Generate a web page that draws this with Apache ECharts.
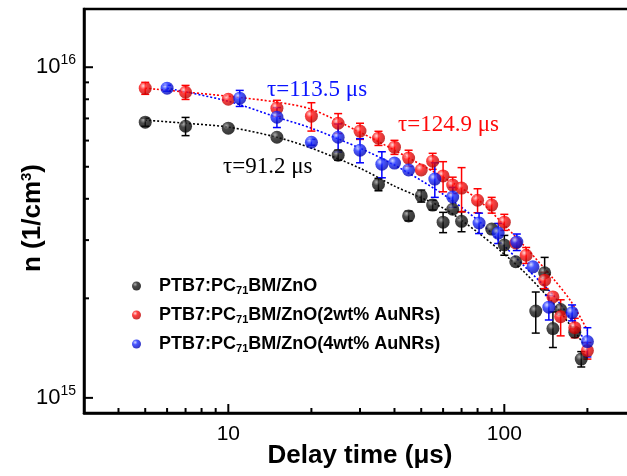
<!DOCTYPE html>
<html>
<head>
<meta charset="utf-8">
<script src="https://cdn.jsdelivr.net/npm/echarts@6/dist/echarts.min.js"></script>
<style>
  html, body { margin: 0; padding: 0; background: #fff; }
  #chart { width: 627px; height: 476px; }
</style>
</head>
<body>
<div id="chart"></div>
<script>
// all n values below are in units of 1e15 cm^-3
const UNIT = 1e15;

// PTB7:PC71BM/ZnO
const blackTimes = [5, 7, 10, 15, 25, 35, 45, 50, 55, 60, 65, 70, 90, 100, 110, 130, 140, 150, 160, 180, 190];
const blackValues = [6.82, 6.63, 6.54, 6.14, 5.42, 4.42, 3.55, 4.08, 3.83, 3.40, 3.72, 3.42, 3.24, 2.90, 2.58, 1.83, 2.39, 1.62, 1.85, 1.58, 1.31];
const blackErrors = [0.19, 0.42, 0, 0, 0.19, 0.19, 0.12, 0.17, 0.13, 0.24, 0, 0.24, 0, 0.20, 0, 0.26, 0.27, 0.20, 0, 0, 0.07];

// PTB7:PC71BM/ZnO(2wt% AuNRs)
const redTimes = [5, 7, 10, 15, 20, 25, 30, 35, 40, 45, 50, 55, 60, 65, 70, 80, 90, 100, 110, 120, 140, 150, 160, 180, 200];
const redValues = [8.64, 8.40, 8.00, 7.52, 7.11, 6.77, 6.41, 6.10, 5.73, 5.31, 4.89, 5.20, 4.69, 4.40, 4.31, 3.96, 3.83, 3.40, 2.94, 2.70, 2.27, 2.02, 1.76, 1.63, 1.39];
const redErrors = [0.36, 0.41, 0, 0.42, 0.70, 0.47, 0.36, 0.30, 0.28, 0.30, 0, 0.29, 0.49, 0.25, 0.66, 0.33, 0.21, 0.19, 0, 0.15, 0.13, 0, 0.22, 0.11, 0.08];

// PTB7:PC71BM/ZnO(4wt% AuNRs)
const blueTimes = [6, 11, 15, 20, 25, 30, 36, 40, 45, 56, 65, 81, 95, 111, 127, 145, 176, 200];
const blueValues = [8.64, 8.06, 7.06, 5.93, 6.14, 5.61, 5.09, 5.13, 4.89, 4.59, 4.05, 3.38, 3.15, 2.96, 2.49, 1.88, 1.81, 1.48];
const blueErrors = [0.18, 0.45, 0.49, 0.12, 0.60, 0.47, 0.46, 0, 0, 0.55, 0.28, 0.24, 0.22, 0.17, 0, 0.16, 0.10, 0.15];

// dotted fit curves
const blackFitTimes = [5, 7, 10, 15, 20, 30, 40, 60, 80, 100, 120, 150, 175, 200];
const blackFitValues = [6.92, 6.77, 6.59, 6.14, 5.69, 4.95, 4.37, 3.75, 3.17, 2.72, 2.37, 1.94, 1.64, 1.40];
const redFitTimes = [5, 10, 15, 20, 30, 40, 60, 80, 100, 120, 150, 175, 200];
const redFitValues = [8.64, 8.17, 7.84, 7.46, 6.36, 5.61, 4.65, 3.99, 3.33, 2.84, 2.30, 1.95, 1.60];
const blueFitTimes = [6, 10, 15, 20, 30, 40, 60, 80, 100, 120, 150, 175, 200];
const blueFitValues = [8.64, 7.89, 7.06, 6.54, 5.69, 5.06, 4.13, 3.45, 2.88, 2.47, 2.05, 1.72, 1.45];

// axes
const X_MIN = 3, X_MAX = 300;
const Y_MIN = 0.9, Y_MAX = 15;
const xMajorTicks = [10, 100];
const xMinorTicks = [4, 5, 6, 7, 8, 9, 20, 30, 40, 50, 60, 70, 80, 90, 200];
const yMajorTicks = [1, 10];
const yMinorTicks = [2, 3, 4, 5, 6, 7, 8, 9];

const SANS = '"Liberation Sans", Arial, sans-serif';
const SERIF = '"Liberation Serif", "Times New Roman", serif';

const sphere = (hi, base, dark) => ({
    type: 'radial', x: 0.35, y: 0.32, r: 0.75,
    colorStops: [
        { offset: 0, color: hi },
        { offset: 0.35, color: base },
        { offset: 1, color: dark }
    ]
});

const pairs = (times, vals, errs) =>
    times.map((t, i) => errs ? [t, vals[i] * UNIT, errs[i] * UNIT] : [t, vals[i] * UNIT]);

const errorBars = (name, color, data) => ({
    type: 'custom',
    name: name + ' err',
    data: data,
    encode: { x: 0, y: 1 },
    z: 3,
    silent: true,
    renderItem: (params, api) => {
        const x = api.value(0), y = api.value(1), e = api.value(2);
        if (!e) return null;
        const top = api.coord([x, y + e]);
        const bot = api.coord([x, y - e]);
        const half = 4;
        const st = { stroke: color, lineWidth: 1.5 };
        return {
            type: 'group',
            children: [
                { type: 'line', shape: { x1: top[0], y1: top[1], x2: bot[0], y2: bot[1] }, style: st },
                { type: 'line', shape: { x1: top[0] - half, y1: top[1], x2: top[0] + half, y2: top[1] }, style: st },
                { type: 'line', shape: { x1: bot[0] - half, y1: bot[1], x2: bot[0] + half, y2: bot[1] }, style: st }
            ]
        };
    }
});

const fitLine = (color, times, vals) => ({
    type: 'line',
    data: pairs(times, vals),
    smooth: 0.3,
    showSymbol: false,
    silent: true,
    z: 1,
    lineStyle: { color: color, width: 1.6, type: [2, 2] }
});

const points = (name, color, data) => ({
    type: 'scatter',
    name: name,
    data: data,
    symbolSize: 13,
    z: 4,
    itemStyle: { color: color }
});

// tick marks drawn inside the frame
const tickSeries = (vals, isX, len) => ({
    type: 'custom',
    data: vals.map(v => isX ? [v, Y_MIN * UNIT] : [X_MIN, v * UNIT]),
    encode: { x: 0, y: 1 },
    silent: true,
    z: 5,
    renderItem: (params, api) => {
        const p = api.coord([api.value(0), api.value(1)]);
        const shape = isX
            ? { x1: p[0], y1: p[1], x2: p[0], y2: p[1] - len }
            : { x1: p[0], y1: p[1], x2: p[0] + len, y2: p[1] };
        return { type: 'line', shape: shape, style: { stroke: '#000', lineWidth: 2 } };
    }
});

const blackColor = sphere('#9a9a9a', '#1c1c1c', '#000000');
const redColor = sphere('#ffd0d0', '#ff1010', '#b00000');
const blueColor = sphere('#c8d0ff', '#1a2cff', '#0000a8');

const legendText = (tail) => '{a|PTB7:PC}{sub|71}{b|BM/ZnO' + tail + '}';

const isPow10 = v => Math.abs(Math.log10(v) - Math.round(Math.log10(v))) < 1e-6;

const chart = echarts.init(document.getElementById('chart'), null, { renderer: 'canvas' });

chart.setOption({
    animation: false,
    backgroundColor: '#ffffff',
    grid: {
        left: 84, top: 9, right: -9, bottom: 63,
        outerBoundsMode: 'none',
        containLabel: false,
        show: true, borderColor: '#000', borderWidth: 2.5
    },
    xAxis: {
        type: 'log', logBase: 10, min: X_MIN, max: X_MAX,
        name: 'Delay time (μs)',
        nameLocation: 'middle',
        nameGap: 30,
        nameMoveOverlap: false,
        nameTextStyle: { fontFamily: SANS, fontWeight: 'bold', fontSize: 26, color: '#000' },
        axisLine: { lineStyle: { color: '#000', width: 2.5 } },
        axisTick: { show: false },
        splitLine: { show: false },
        axisLabel: {
            margin: 11,
            fontFamily: SANS, fontSize: 21, color: '#000',
            formatter: v => isPow10(v) ? String(Math.round(v)) : ''
        }
    },
    yAxis: {
        type: 'log', logBase: 10, min: Y_MIN * UNIT, max: Y_MAX * UNIT,
        name: 'n (1/cm{sup|3})',
        nameLocation: 'middle',
        nameGap: 38,
        nameMoveOverlap: false,
        nameTextStyle: {
            fontFamily: SANS, fontWeight: 'bold', fontSize: 26, color: '#000',
            padding: [0, 14, 0, 0],
            rich: {
                sup: { fontFamily: SANS, fontWeight: 'bold', fontSize: 15, color: '#000', padding: [0, 0, 12, 0] }
            }
        },
        axisLine: { lineStyle: { color: '#000', width: 2.5 } },
        axisTick: { show: false },
        splitLine: { show: false },
        axisLabel: {
            margin: 8,
            formatter: v => isPow10(v) ? '{b|10}{s|' + Math.round(Math.log10(v)) + '}' : '',
            rich: {
                b: { fontFamily: SANS, fontSize: 22, color: '#000' },
                s: { fontFamily: SANS, fontSize: 14, color: '#000', padding: [0, 0, 14, 0] }
            }
        }
    },
    legend: {
        orient: 'vertical',
        left: 127, top: 272,
        itemWidth: 9, itemHeight: 9,
        itemGap: 10,
        icon: 'circle',
        data: ['black', 'red', 'blue'],
        formatter: name => ({
            black: legendText(''),
            red: legendText('(2wt% AuNRs)'),
            blue: legendText('(4wt% AuNRs)')
        })[name],
        textStyle: {
            rich: {
                a: { fontFamily: SANS, fontWeight: 'bold', fontSize: 18, color: '#000', padding: [0, 0, 0, 13] },
                b: { fontFamily: SANS, fontWeight: 'bold', fontSize: 18, color: '#000' },
                sub: { fontFamily: SANS, fontWeight: 'bold', fontSize: 11, color: '#000', padding: [9, 0, 0, 0] }
            }
        }
    },
    graphic: [
        { type: 'text', x: 267, y: 90, style: { text: 'τ=113.5 μs', font: '23px ' + SERIF, fill: '#0a14ff', verticalAlign: 'middle' } },
        { type: 'text', x: 398, y: 125, style: { text: 'τ=124.9 μs', font: '23px ' + SERIF, fill: '#ff0a0a', verticalAlign: 'middle' } },
        { type: 'text', x: 223, y: 167, style: { text: 'τ=91.2 μs', font: '23px ' + SERIF, fill: '#000', verticalAlign: 'middle' } }
    ],
    series: [
        fitLine('#000', blackFitTimes, blackFitValues),
        fitLine('#ff0000', redFitTimes, redFitValues),
        fitLine('#0000ff', blueFitTimes, blueFitValues),
        errorBars('black', '#000', pairs(blackTimes, blackValues, blackErrors)),
        errorBars('red', '#ff0000', pairs(redTimes, redValues, redErrors)),
        errorBars('blue', '#0000ff', pairs(blueTimes, blueValues, blueErrors)),
        points('black', blackColor, pairs(blackTimes, blackValues)),
        points('red', redColor, pairs(redTimes, redValues)),
        points('blue', blueColor, pairs(blueTimes, blueValues)),
        tickSeries(xMajorTicks, true, 9),
        tickSeries(xMinorTicks, true, 5),
        tickSeries(yMajorTicks, false, 9),
        tickSeries(yMinorTicks, false, 5)
    ]
});
</script>
</body>
</html>
